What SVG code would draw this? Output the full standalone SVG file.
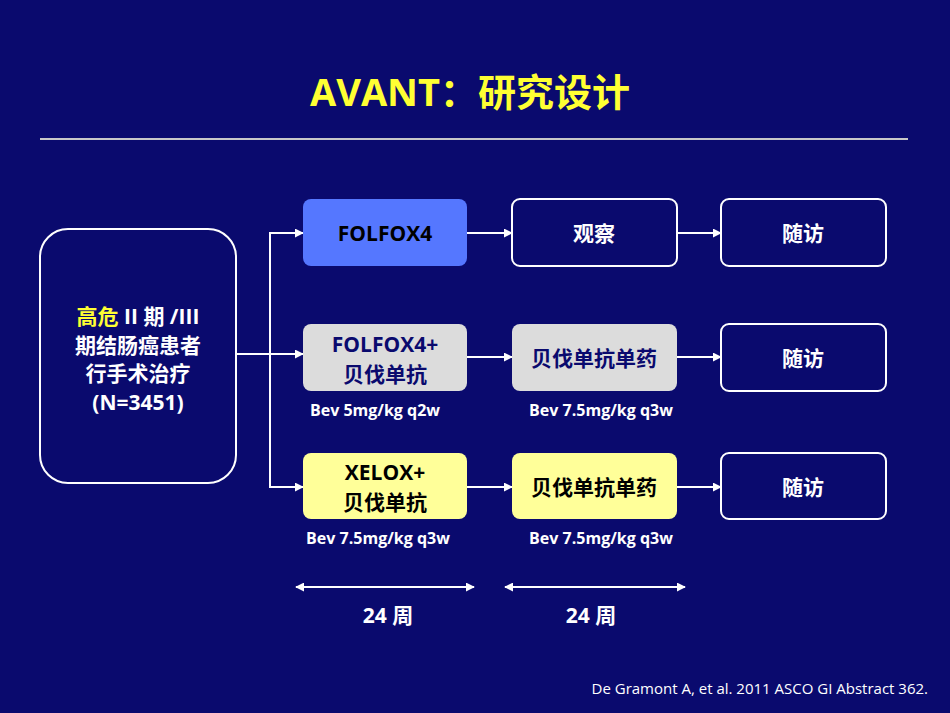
<svg xmlns="http://www.w3.org/2000/svg" width="950" height="713" viewBox="0 0 950 713">
<defs>
<marker id="ah" viewBox="0 0 10 10" refX="9" refY="5" markerWidth="9" markerHeight="9" markerUnits="userSpaceOnUse" orient="auto-start-reverse"><path d="M0,0L10,5L0,10z" fill="#fff"/></marker>
<style>
text{font-family:"Open Sans","Noto Sans CJK SC",sans-serif;font-weight:bold;text-anchor:middle}
.w{fill:#fff;font-size:21px}
.k{fill:#000;font-size:21px}
.n{fill:#0a0a6e;font-size:21px}
.s{fill:#fff;font-size:16px}
.ln{stroke:#fff;stroke-width:2;fill:none}
.ob{fill:#0a0a6e;stroke:#fff;stroke-width:2}
</style>
</defs>
<rect width="950" height="713" fill="#0a0a6e"/>
<text x="470" y="106" style="fill:#ffff33;font-size:38px">AVANT：研究设计</text>
<line x1="40" y1="139" x2="908" y2="139" stroke="#c8c8c8" stroke-width="2"/>
<g id="connectors">
<path class="ln" d="M236,354H303" marker-end="url(#ah)"/>
<path class="ln" d="M303,233H270V487H303" marker-end="url(#ah)" marker-start="url(#ah)"/>
<path class="ln" d="M467,233H512" marker-end="url(#ah)"/>
<path class="ln" d="M677,233H721" marker-end="url(#ah)"/>
<path class="ln" d="M467,357H512" marker-end="url(#ah)"/>
<path class="ln" d="M677,357H721" marker-end="url(#ah)"/>
<path class="ln" d="M467,487H512" marker-end="url(#ah)"/>
<path class="ln" d="M677,487H721" marker-end="url(#ah)"/>
<path class="ln" d="M296,587H474" marker-end="url(#ah)" marker-start="url(#ah)"/>
<path class="ln" d="M505,587H685" marker-end="url(#ah)" marker-start="url(#ah)"/>
</g>
<g id="patients"><rect class="ob" x="40" y="229" width="196" height="254" rx="28"/>
<text x="138" y="324" class="w"><tspan style="fill:#ffff33">高危</tspan> II 期 /III</text>
<text x="138" y="353" class="w">期结肠癌患者</text>
<text x="138" y="381" class="w">行手术治疗</text>
<text x="138" y="410" class="w">(N=3451)</text></g>
<g id="folfox4"><rect x="303" y="199" width="164" height="67" rx="8" fill="#5577ff"/><text x="385" y="241" class="k">FOLFOX4</text></g>
<g id="folfoxbev"><rect x="303" y="324" width="164" height="67" rx="8" fill="#dcdcdc"/><text x="385" y="352" class="n">FOLFOX4+</text><text x="385" y="382" class="n">贝伐单抗</text><text x="375" y="416" class="s">Bev 5mg/kg q2w</text></g>
<g id="xeloxbev"><rect x="303" y="453" width="164" height="66" rx="8" fill="#ffff99"/><text x="385" y="480" class="k">XELOX+</text><text x="385" y="510" class="k">贝伐单抗</text><text x="378" y="544" class="s">Bev 7.5mg/kg q3w</text></g>
<g id="obs"><rect class="ob" x="512" y="199" width="165" height="67" rx="8"/><text x="594" y="241" class="w">观察</text></g>
<g id="bev2"><rect x="512" y="324" width="165" height="67" rx="8" fill="#dcdcdc"/><text x="594" y="366" class="n">贝伐单抗单药</text><text x="601" y="416" class="s">Bev 7.5mg/kg q3w</text></g>
<g id="bev3"><rect x="512" y="453" width="165" height="66" rx="8" fill="#ffff99"/><text x="594" y="495" class="k">贝伐单抗单药</text><text x="601" y="544" class="s">Bev 7.5mg/kg q3w</text></g>
<g id="fu1"><rect class="ob" x="721" y="199" width="165" height="67" rx="8"/><text x="803" y="241" class="w">随访</text></g>
<g id="fu2"><rect class="ob" x="721" y="324" width="165" height="67" rx="8"/><text x="803" y="366" class="w">随访</text></g>
<g id="fu3"><rect class="ob" x="721" y="453" width="165" height="66" rx="8"/><text x="803" y="495" class="w">随访</text></g>
<text x="388" y="623" class="w">24 周</text>
<text x="591" y="623" class="w">24 周</text>
<text x="928" y="694" style="fill:#fff;font-size:15px;font-weight:normal;text-anchor:end">De Gramont A, et al. 2011 ASCO GI Abstract 362.</text>
</svg>
